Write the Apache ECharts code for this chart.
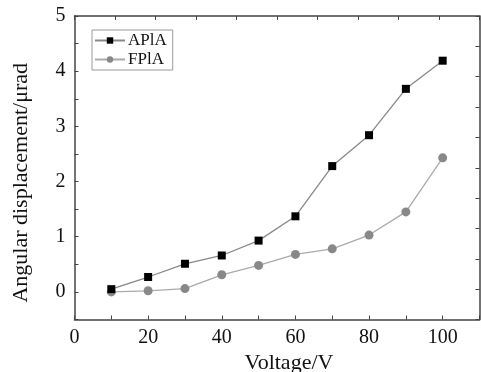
<!DOCTYPE html>
<html>
<head>
<meta charset="utf-8">
<script src="https://cdn.jsdelivr.net/npm/echarts@6/dist/echarts.min.js"></script>
<style>
  html, body { margin: 0; padding: 0; background: #fff; }
  #chart { width: 481px; height: 372px; }
</style>
</head>
<body>
<div id="chart"></div>
<script>
const voltages = [10, 20, 30, 40, 50, 60, 70, 80, 90, 100];
const apla = [0.05, 0.27, 0.51, 0.66, 0.93, 1.37, 2.28, 2.84, 3.68, 4.19];
const fpla = [0.0, 0.02, 0.06, 0.31, 0.48, 0.68, 0.78, 1.03, 1.45, 2.43];

const font = "Liberation Serif";
const axisColor = "#444";

const chart = echarts.init(document.getElementById("chart"));

chart.setOption({
  backgroundColor: "#fff",
  animation: false,
  grid: { left: 74.5, right: 1.5, top: 16, bottom: 52.5, containLabel: false, outerBoundsMode: "none" },
  legend: {
    orient: "vertical",
    left: 92,
    top: 30,
    padding: [2, 6, 2, 2],
    itemGap: 2,
    itemWidth: 30,
    itemHeight: 8,
    borderColor: "#999",
    borderWidth: 1,
    textStyle: { fontFamily: font, fontSize: 17, color: "#111", padding: [0, 0, 0, -2] },
    data: ["APlA", "FPlA"],
  },
  xAxis: [
    {
      type: "value",
      min: 0,
      max: 110,
      interval: 10,
      name: "Voltage/V",
      nameLocation: "middle",
      nameGap: 30,
      nameTextStyle: { fontFamily: font, fontSize: 22, color: "#111", padding: [0, 0, 0, 24] },
      axisLine: { onZero: false, lineStyle: { color: axisColor, width: 1.5 } },
      axisTick: { inside: true, length: 4, lineStyle: { color: axisColor } },
      axisLabel: {
        fontFamily: font,
        fontSize: 20,
        color: "#111",
        margin: 8,
        formatter: (v) => (v % 20 === 0 && v <= 100 ? String(v) : ""),
      },
      splitLine: { show: false },
    },
    {
      type: "value",
      position: "top",
      min: 0,
      max: 10,
      interval: 1,
      axisLine: { onZero: false, lineStyle: { color: axisColor, width: 1.5 } },
      axisTick: { inside: true, length: 4, lineStyle: { color: axisColor } },
      axisLabel: { show: false },
      splitLine: { show: false },
    },
  ],
  yAxis: [
    {
      type: "value",
      min: -0.5,
      max: 5,
      interval: 0.5,
      name: "Angular displacement/\u03bcrad",
      nameLocation: "middle",
      nameGap: 42,
      nameTextStyle: { fontFamily: font, fontSize: 22, color: "#111", padding: [0, 30, 0, 0] },
      axisLine: { onZero: false, lineStyle: { color: axisColor, width: 1.5 } },
      axisTick: { inside: true, length: 4, lineStyle: { color: axisColor } },
      axisLabel: {
        fontFamily: font,
        fontSize: 20,
        color: "#111",
        margin: 9,
        formatter: (v) => (Number.isInteger(v) ? String(v) : ""),
      },
      splitLine: { show: false },
    },
    {
      type: "value",
      position: "right",
      min: 0,
      max: 10,
      interval: 1,
      axisLine: { show: true, onZero: false, lineStyle: { color: axisColor, width: 1.5 } },
      axisTick: { show: true, inside: true, length: 4, lineStyle: { color: axisColor } },
      axisLabel: { show: false },
      splitLine: { show: false },
    },
  ],
  series: [
    {
      name: "APlA",
      type: "line",
      data: voltages.map((v, i) => [v, apla[i]]),
      symbol: "rect",
      symbolSize: 8,
      itemStyle: { color: "#000" },
      lineStyle: { color: "#888", width: 1.3 },
      z: 3,
    },
    {
      name: "FPlA",
      type: "line",
      data: voltages.map((v, i) => [v, fpla[i]]),
      symbol: "circle",
      symbolSize: 9,
      itemStyle: { color: "#888" },
      lineStyle: { color: "#aaa", width: 1.3 },
      z: 2,
    },
  ],
});
</script>
</body>
</html>
